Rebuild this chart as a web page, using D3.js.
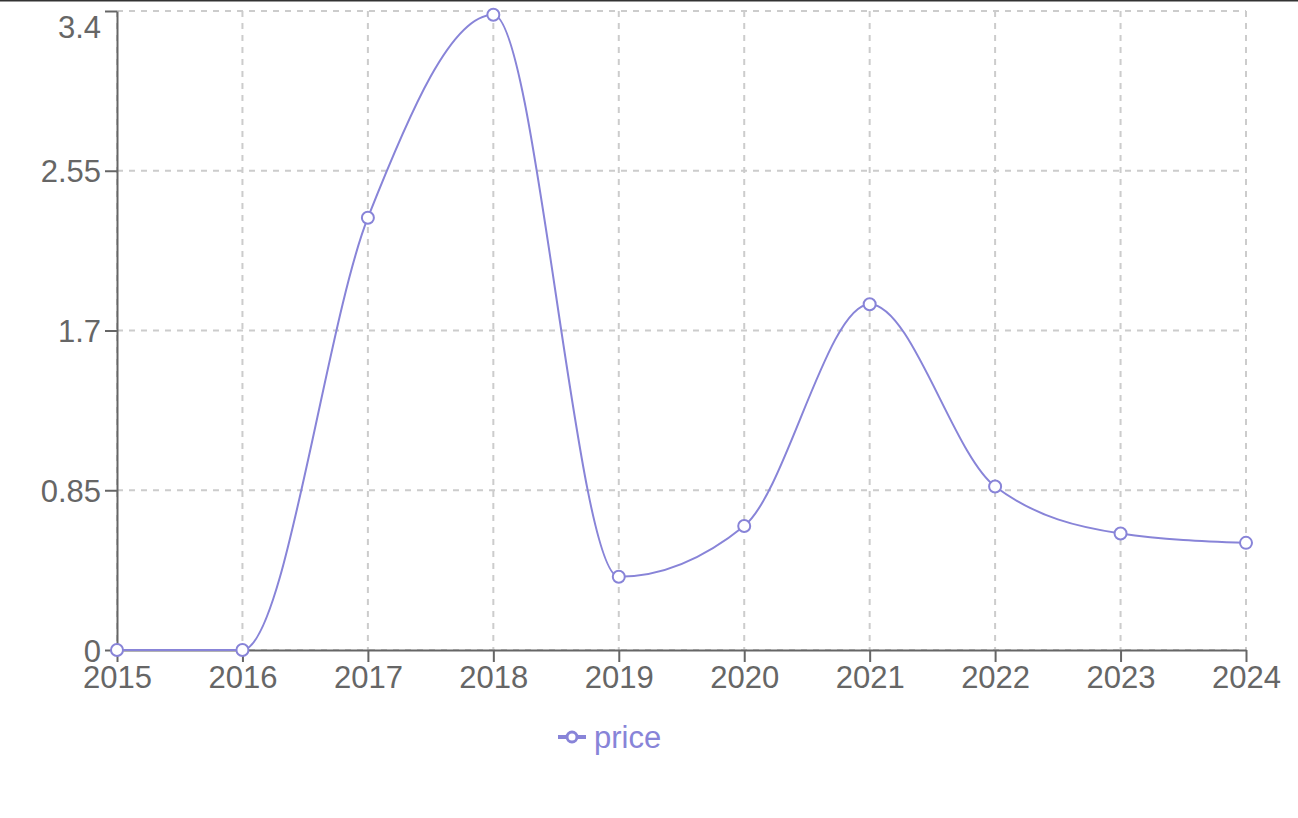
<!DOCTYPE html>
<html>
<head>
<meta charset="utf-8">
<script src="https://cdn.jsdelivr.net/npm/d3@7"></script>
<style>
  body { margin: 0; background: #fff; }
  text { font-family: "Liberation Sans", Arial, sans-serif; }
</style>
</head>
<body>
<div id="chart"></div>
<script>
// data
var years = [2015, 2016, 2017, 2018, 2019, 2020, 2021, 2022, 2023, 2024];
var price = [0, 0, 2.3, 3.38, 0.39, 0.66, 1.84, 0.87, 0.62, 0.57];
var yTicks = [0, 0.85, 1.7, 2.55, 3.4];
var seriesName = "price";

var lineColor = "#8884d8";
var textColor = "#666";

var W = 1298, H = 818;
var plotLeft = 117, plotRight = 1246, plotTop = 11, plotBottom = 650;

var svg = d3.select('#chart')
            .append('svg')
            .attr('width', W)
            .attr('height', H);

// dark rule along the top edge
svg.append('line')
   .attr('x1', 0).attr('x2', W)
   .attr('y1', 0.5).attr('y2', 0.5)
   .attr('stroke', '#333')
   .attr('stroke-width', 2);

var x = d3.scalePoint()
          .domain(years)
          .range([plotLeft, plotRight]);

var y = d3.scaleLinear()
          .domain([0, 3.4])
          .range([plotBottom, plotTop]);

// grid
var grid = svg.append('g')
              .attr('stroke', '#ccc')
              .attr('stroke-width', 2)
              .attr('stroke-dasharray', '6 6');

grid.selectAll('.hgrid')
    .data(yTicks)
    .enter().append('line')
    .attr('x1', plotLeft).attr('x2', plotRight)
    .attr('y1', function(d) { return y(d); })
    .attr('y2', function(d) { return y(d); });

grid.selectAll('.vgrid')
    .data(years)
    .enter().append('line')
    .attr('x1', function(d) { return x(d); })
    .attr('x2', function(d) { return x(d); })
    .attr('y1', plotTop).attr('y2', plotBottom);

// axes
var x_axis = d3.axisBottom(x)
               .tickSizeInner(12)
               .tickSizeOuter(0)
               .tickPadding(4);

var y_axis = d3.axisLeft(y)
               .tickValues(yTicks)
               .tickFormat(function(d) { return String(d); })
               .tickSizeInner(12)
               .tickSizeOuter(0)
               .tickPadding(4);

var gx = svg.append('g')
            .attr('transform', 'translate(0,' + plotBottom + ')')
            .call(x_axis);

var gy = svg.append('g')
            .attr('transform', 'translate(' + plotLeft + ',0)')
            .call(y_axis);

[gx, gy].forEach(function(g) {
  g.selectAll('path, line').attr('stroke', textColor).attr('stroke-width', 2);
  g.selectAll('text')
   .attr('fill', textColor)
   .style('font-size', '31px')
   .style('font-family', '"Liberation Sans", Arial, sans-serif');
});
// top label is pushed down so it stays inside the frame
gy.selectAll('text').attr('dy', function(d) { return d === 3.4 ? '0.84em' : '0.36em'; });
gx.selectAll('text').attr('dy', '0.72em');

// line
var line = d3.line()
             .curve(d3.curveMonotoneX)
             .x(function(d, i) { return x(years[i]); })
             .y(function(d) { return y(d); });

svg.append('path')
   .datum(price)
   .attr('fill', 'none')
   .attr('stroke', lineColor)
   .attr('stroke-width', 2)
   .attr('d', line);

svg.selectAll('.dot')
   .data(price)
   .enter().append('circle')
   .attr('cx', function(d, i) { return x(years[i]); })
   .attr('cy', function(d) { return y(d); })
   .attr('r', 6)
   .attr('fill', '#fff')
   .attr('stroke', lineColor)
   .attr('stroke-width', 2);

// legend
var legend = svg.append('g')
                .attr('transform', 'translate(558,737)');

legend.append('line')
      .attr('x1', 0).attr('x2', 28)
      .attr('y1', 0).attr('y2', 0)
      .attr('stroke', lineColor)
      .attr('stroke-width', 4);

legend.append('circle')
      .attr('cx', 14).attr('cy', 0)
      .attr('r', 5)
      .attr('fill', '#fff')
      .attr('stroke', lineColor)
      .attr('stroke-width', 3);

legend.append('text')
      .attr('x', 36)
      .attr('y', 0)
      .attr('dy', '0.35em')
      .attr('fill', lineColor)
      .style('font-size', '31px')
      .text(seriesName);
</script>
</body>
</html>
